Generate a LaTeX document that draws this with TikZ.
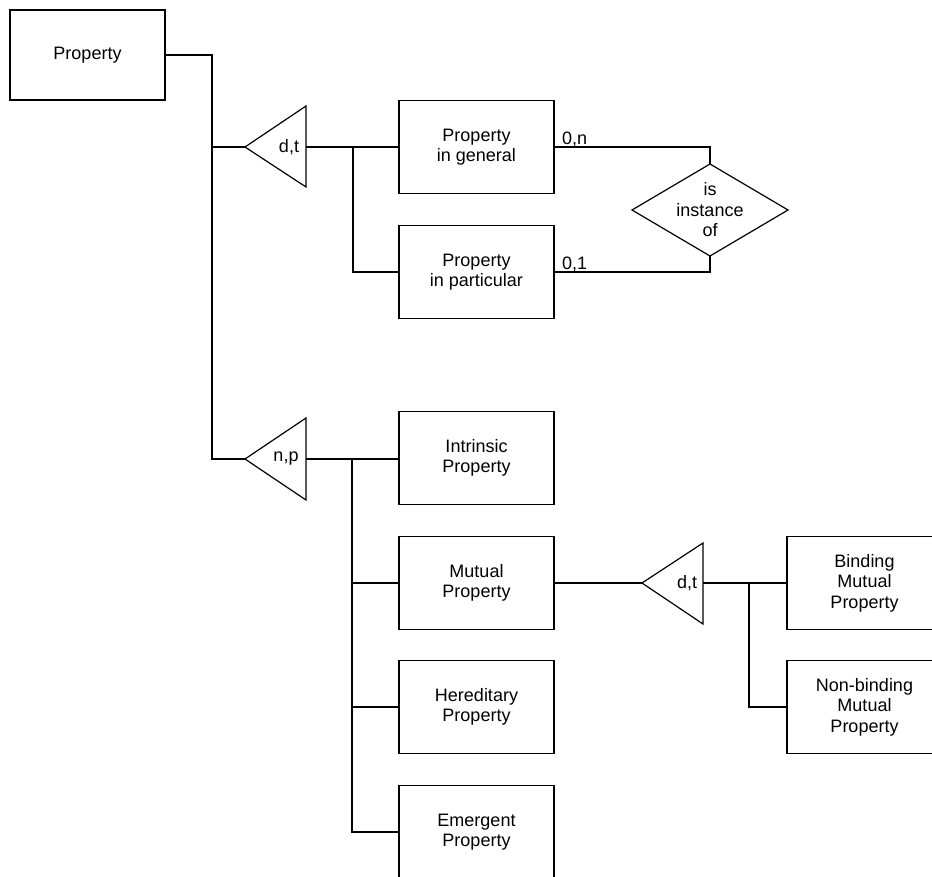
\documentclass[tikz,border=0pt]{standalone}
\usepackage{fontspec}
\setmainfont{Liberation Sans}
\begin{document}
\begin{tikzpicture}[x=1pt,y=-1pt,
  line width=1.2pt,
  every node/.style={font=\fontsize{18}{20.5}\selectfont},
  entity/.style={draw, line width=1.2pt, minimum width=155pt, minimum height=93pt,
                 inner sep=0pt, align=center},
  shapeline/.style={draw, line width=1.2pt, line join=miter},
  card/.style={inner sep=1pt, anchor=south west}]
\useasboundingbox (0,0) rectangle (932,877);
\clip (0,0) rectangle (932,877);

% entities
\node[entity, minimum height=90pt] (P) at (87.5,55) {Property};
\node[entity] (PG) at (476.5,147) {Property\\in general};
\node[entity] (PP) at (476.5,272) {Property\\in particular};
\node[entity] (IP) at (476.5,458) {Intrinsic\\Property};
\node[entity] (MP) at (476.5,583) {Mutual\\Property};
\node[entity] (HP) at (476.5,707) {Hereditary\\Property};
\node[entity] (EP) at (476.5,832) {Emergent\\Property};
\node[entity] (BM) at (864.5,583) {Binding\\Mutual\\Property};
\node[entity] (NB) at (864.5,707) {Non-binding\\Mutual\\Property};

% relationship diamond
\node[inner sep=0pt, align=center] (D) at (710,210) {is\\instance\\of};
\coordinate (Dn) at (710,164); \coordinate (Ds) at (710,256);
\coordinate (Dw) at (632,210); \coordinate (De) at (788,210);
\draw[shapeline] (Dn) -- (De) -- (Ds) -- (Dw) -- cycle;

% specialisation triangles: apex (a) and base midpoint (b)
\coordinate (t1a) at (245,147); \coordinate (t1b) at (306,147);
\coordinate (t2a) at (245,459); \coordinate (t2b) at (306,459);
\coordinate (t3a) at (642,583); \coordinate (t3b) at (703,583);
\draw[shapeline] (t1a) -- (306,106) -- (306,187) -- cycle;
\draw[shapeline] (t2a) -- (306,418) -- (306,500) -- cycle;
\draw[shapeline] (t3a) -- (703,543) -- (703,624) -- cycle;
\node (l1) at (289,147) {d,t};
\node (l2) at (286,459) {n,p};
\node (l3) at (687,583) {d,t};

% junction columns
\coordinate (spine) at (212,0);
\coordinate (br1) at (353,0);
\coordinate (br2) at (352,0);
\coordinate (br3) at (749,0);

% connectors
\draw (P.east) -| (t2a -| spine) -- (t2a);
\draw (t1a) -- (t1a -| spine);
\draw (t1b) -- (PG.west);
\draw (t1b -| br1) |- (PP.west);
\draw (PG.east) -| (Dn);
\draw (PP.east) -| (Ds);
\draw (t2b) -- (IP.west |- t2b);
\draw (t2b -| br2) |- (EP.west);
\draw (MP.west -| br2) -- (MP.west);
\draw (HP.west -| br2) -- (HP.west);
\draw (MP.east) -- (t3a);
\draw (t3b) -- (BM.west);
\draw (t3b -| br3) |- (NB.west);

% cardinalities
\node[card] (c1) at ([xshift=6pt,yshift=-1pt]PG.east) {0,n};
\node[card] (c2) at ([xshift=6pt,yshift=-1pt]PP.east) {0,1};
\end{tikzpicture}
\end{document}
